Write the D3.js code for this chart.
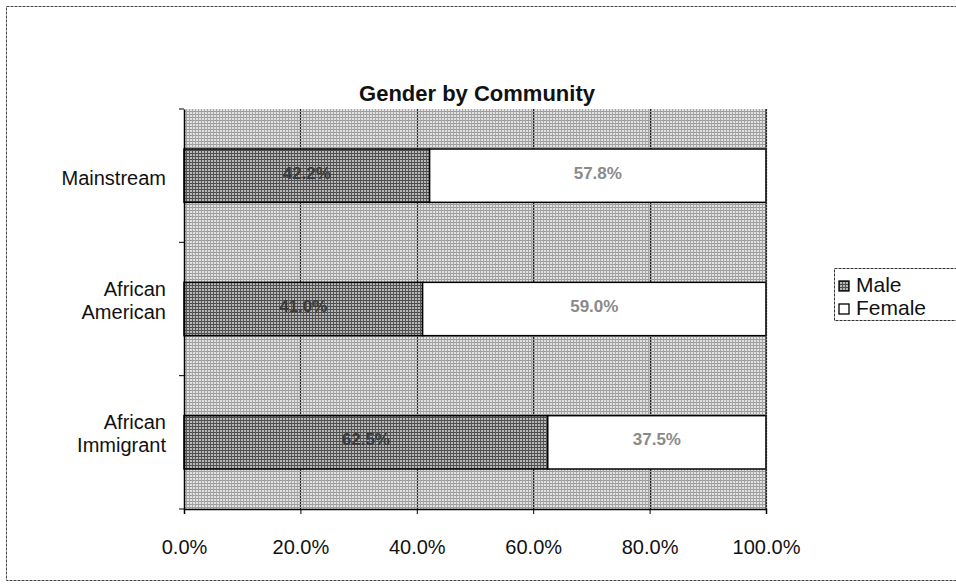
<!DOCTYPE html>
<html>
<head>
<meta charset="utf-8">
<script src="https://cdn.jsdelivr.net/npm/d3@7"></script>
<style>
  html, body { margin: 0; padding: 0; background: #fff; }
  svg { display: block; font-family: Arial, "Liberation Sans", sans-serif; }
</style>
</head>
<body>
<svg id="chart" width="956" height="587"></svg>
<script>
// Community groups (top to bottom) and their gender shares in percent
const communities = [["Mainstream"], ["African", "American"], ["African", "Immigrant"]];
const communityKeys = ["Mainstream", "African American", "African Immigrant"];
const maleShare = [42.2, 41.0, 62.5];
const femaleShare = [57.8, 59.0, 37.5];
const seriesNames = ["Male", "Female"];
const tickValues = [0, 20, 40, 60, 80, 100];

const svg = d3.select("#chart");
const defs = svg.append("defs");

// Dithered fills: light grey plot area, darker grey for the Male series
const bgPat = defs.append("pattern").attr("id", "bgPat")
  .attr("width", 3).attr("height", 3).attr("patternUnits", "userSpaceOnUse");
bgPat.append("rect").attr("width", 3).attr("height", 3).attr("fill", "#e2e2e2");
bgPat.append("rect").attr("x", 0).attr("y", 0).attr("width", 3).attr("height", 1).attr("fill", "#999");
bgPat.append("rect").attr("x", 0).attr("y", 0).attr("width", 1).attr("height", 3).attr("fill", "#a6a6a6");

const malePat = defs.append("pattern").attr("id", "malePat")
  .attr("width", 3).attr("height", 3).attr("patternUnits", "userSpaceOnUse");
malePat.append("rect").attr("width", 3).attr("height", 3).attr("fill", "#b8b8b8");
malePat.append("rect").attr("x", 0).attr("y", 0).attr("width", 3).attr("height", 1).attr("fill", "#4a4a4a");
malePat.append("rect").attr("x", 0).attr("y", 0).attr("width", 1).attr("height", 3).attr("fill", "#555");

// Outer chart frame
svg.append("rect").attr("x", 6.5).attr("y", 6.5).attr("width", 960).attr("height", 574)
  .attr("fill", "none").attr("stroke", "#444").attr("stroke-width", 1)
  .attr("stroke-dasharray", "3,1");

// Title
svg.append("text").attr("x", 477).attr("y", 101).attr("text-anchor", "middle")
  .attr("font-size", 22).attr("font-weight", "bold").attr("fill", "#111")
  .text("Gender by Community");

const plot = { left: 184, right: 766, top: 109, bottom: 509 };

const x = d3.scaleLinear().domain([0, 100]).range([plot.left, plot.right]);
const y = d3.scaleBand().domain(communityKeys).range([plot.top, plot.bottom])
  .paddingInner(0.6).paddingOuter(0.3);
const yBand = d3.scaleBand().domain(communityKeys).range([plot.top, plot.bottom]);

// Plot background
svg.append("rect").attr("x", plot.left).attr("y", plot.top)
  .attr("width", plot.right - plot.left).attr("height", plot.bottom - plot.top)
  .attr("fill", "url(#bgPat)");

// Vertical gridlines
svg.append("g").selectAll("line").data(tickValues.slice(1)).join("line")
  .attr("x1", d => Math.round(x(d)) + 0.5).attr("x2", d => Math.round(x(d)) + 0.5)
  .attr("y1", plot.top).attr("y2", plot.bottom)
  .attr("stroke", "#222").attr("stroke-width", 1.2).attr("stroke-dasharray", "2,1");

// Stacked bars
const rows = communityKeys.map((k, i) => ({ key: k, male: maleShare[i], female: femaleShare[i] }));
const stack = d3.stack().keys(["male", "female"])(rows);
const fills = { male: "url(#malePat)", female: "#ffffff" };

const layers = svg.append("g").selectAll("g").data(stack).join("g");
layers.selectAll("rect").data(s => s.map(d => ({ key: s.key, d }))).join("rect")
  .attr("x", o => x(o.d[0]))
  .attr("width", o => x(o.d[1]) - x(o.d[0]))
  .attr("y", o => y(o.d.data.key))
  .attr("height", y.bandwidth())
  .attr("fill", o => fills[o.key])
  .attr("stroke", "#000").attr("stroke-width", 1.5);

// Value labels in the middle of each segment
layers.selectAll("text").data(s => s.map(d => ({ key: s.key, d }))).join("text")
  .attr("x", o => (x(o.d[0]) + x(o.d[1])) / 2)
  .attr("y", o => y(o.d.data.key) + y.bandwidth() / 2 + 3)
  .attr("text-anchor", "middle").attr("font-size", 17).attr("font-weight", "bold")
  .attr("fill", o => o.key === "male" ? "#3a3a3a" : "#8a8a8a")
  .text(o => (o.d[1] - o.d[0]).toFixed(1) + "%");

// Axes
const xAxis = svg.append("g").attr("transform", `translate(0,${plot.bottom})`)
  .call(d3.axisBottom(x).tickValues(tickValues).tickSize(5).tickPadding(26)
    .tickFormat(d => d.toFixed(1) + "%"));
xAxis.select(".domain").attr("stroke", "#000").attr("stroke-width", 1.5);
xAxis.selectAll("line").attr("stroke", "#000");
xAxis.selectAll("text").attr("font-size", 20).attr("fill", "#111")
  .attr("font-family", "Arial, 'Liberation Sans', sans-serif");

const yAxis = svg.append("g").attr("transform", `translate(${plot.left},0)`)
  .call(d3.axisLeft(yBand).tickSize(0).tickFormat(""));
yAxis.select(".domain").attr("stroke", "#000").attr("stroke-width", 1.5);

// Category boundary ticks
const bounds = [plot.top, ...communityKeys.map(k => yBand(k) + yBand.bandwidth())];
svg.append("g").selectAll("line").data(bounds).join("line")
  .attr("x1", plot.left - 5).attr("x2", plot.left)
  .attr("y1", d => d).attr("y2", d => d)
  .attr("stroke", "#000");

// Category labels (wrapped across lines, last line level with the bar)
const lineGap = 23;
const catLabels = svg.append("g").selectAll("text").data(communities).join("text")
  .attr("text-anchor", "end").attr("font-size", 20).attr("fill", "#111")
  .attr("transform", (lines, i) => {
    const cy = y(communityKeys[i]) + y.bandwidth() / 2;
    const h = (lines.length - 1) * lineGap;
    const lift = lines.length > 1 ? 9 : -2;
    return `translate(166,${cy - h / 2 + 7 - lift})`;
  });
catLabels.selectAll("tspan").data(d => d).join("tspan")
  .attr("x", 0).attr("dy", (d, i) => i === 0 ? 0 : lineGap).text(d => d);

// Right plot edge
svg.append("line").attr("x1", plot.right).attr("x2", plot.right)
  .attr("y1", plot.top).attr("y2", plot.bottom)
  .attr("stroke", "#333").attr("stroke-width", 1.2);

// Legend
const legend = svg.append("g").attr("transform", "translate(834,268)");
legend.append("rect").attr("x", 0.5).attr("y", 0.5).attr("width", 130).attr("height", 52)
  .attr("fill", "#fff").attr("stroke", "#333").attr("stroke-dasharray", "3,1");
const legendFills = ["url(#malePat)", "#ffffff"];
const items = legend.selectAll("g.item").data(seriesNames).join("g")
  .attr("transform", (d, i) => `translate(5,${13 + i * 23})`);
items.append("rect").attr("width", 10).attr("height", 10)
  .attr("fill", (d, i) => legendFills[i]).attr("stroke", "#000").attr("stroke-width", 1.3);
items.append("text").attr("x", 17).attr("y", 11).attr("font-size", 21).attr("fill", "#111")
  .text(d => d);
</script>
</body>
</html>
